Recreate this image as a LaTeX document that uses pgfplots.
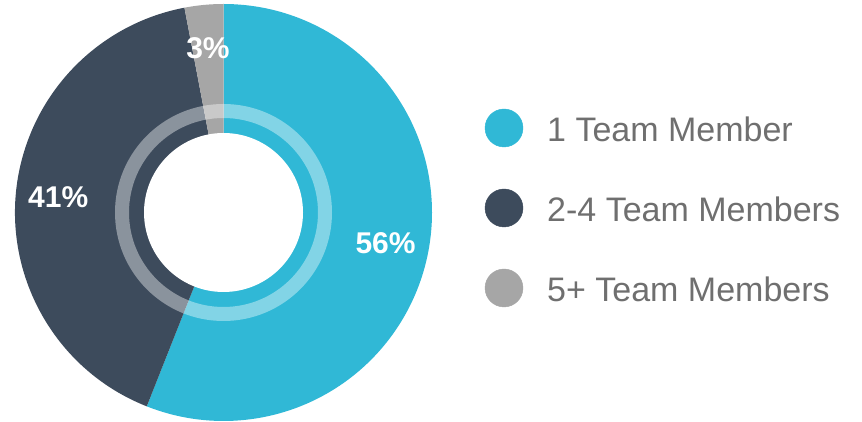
\documentclass[border=0pt]{standalone}
\usepackage{pgfplots}
\pgfplotsset{compat=1.18}
\usepackage{pgfplotstable}
\usepackage{fontspec}
\setmainfont{Liberation Sans}
\definecolor{cone}{HTML}{30B8D6}
\definecolor{ctwo}{HTML}{3D4B5C}
\definecolor{cthree}{HTML}{A6A6A6}
\definecolor{legtext}{HTML}{6F6F6F}

\pgfplotstableread[col sep=comma]{
label,value
1 Team Member,56
2-4 Team Members,41
5+ Team Members,3
}\datatable

\pgfplotstablegetelem{0}{value}\of\datatable \edef\va{\pgfplotsretval}
\pgfplotstablegetelem{1}{value}\of\datatable \edef\vb{\pgfplotsretval}
\pgfplotstablegetelem{2}{value}\of\datatable \edef\vc{\pgfplotsretval}
\pgfplotstablegetelem{0}{label}\of\datatable \edef\la{\pgfplotsretval}
\pgfplotstablegetelem{1}{label}\of\datatable \edef\lb{\pgfplotsretval}
\pgfplotstablegetelem{2}{label}\of\datatable \edef\lc{\pgfplotsretval}
\pgfmathsetmacro{\aO}{90}
\pgfmathsetmacro{\aA}{\aO-3.6*\va}
\pgfmathsetmacro{\aB}{\aA-3.6*\vb}
\pgfmathsetmacro{\aC}{\aB-3.6*\vc}
\pgfmathsetmacro{\mA}{(\aO+\aA)/2}
\pgfmathsetmacro{\mB}{(\aA+\aB)/2}
\pgfmathsetmacro{\mC}{(\aB+\aC)/2}
\def\cx{223.5}
\def\cy{209.5}
\def\R{208.5}

\begin{document}
\begin{tikzpicture}
\begin{axis}[width=862pt,height=422pt,scale only axis,hide axis,
  xmin=0,xmax=862,ymin=0,ymax=422,clip=false,at={(0,0)},anchor=south west]
% donut slices
\fill[cone] (axis cs:\cx,\cy) -- ++(\aO:\R) arc[start angle=\aO,end angle=\aA,radius=\R] -- cycle;
\fill[ctwo] (axis cs:\cx,\cy) -- ++(\aA:\R) arc[start angle=\aA,end angle=\aB,radius=\R] -- cycle;
\fill[cthree] (axis cs:\cx,\cy) -- ++(\aB:\R) arc[start angle=\aB,end angle=\aC,radius=\R] -- cycle;
% light ring
\fill[white,opacity=0.4,even odd rule] (axis cs:\cx,\cy) circle[radius=108.5] (axis cs:\cx,\cy) circle[radius=94.5];
% hole
\fill[white] (axis cs:\cx,\cy) circle[radius=79.5];
% percentage labels
\path (axis cs:\cx,\cy) ++(\mA:165) node[text=white,font=\fontsize{30}{36}\selectfont\bfseries] {\va\%};
\path (axis cs:\cx,\cy) ++(\mB:166) node[text=white,font=\fontsize{30}{36}\selectfont\bfseries] {\vb\%};
\path (axis cs:\cx,\cy) ++(\mC:165) node[text=white,font=\fontsize{30}{36}\selectfont\bfseries] {\vc\%};
% legend
\addplot[only marks,mark=*,mark size=19,color=cone] coordinates {(504,294)};
\addplot[only marks,mark=*,mark size=19,color=ctwo] coordinates {(504,214)};
\addplot[only marks,mark=*,mark size=19,color=cthree] coordinates {(504,134)};
\node[anchor=base west,text=legtext,font=\fontsize{34}{40}\selectfont,inner sep=0pt] at (axis cs:547,280.5) {\la};
\node[anchor=base west,text=legtext,font=\fontsize{34}{40}\selectfont,inner sep=0pt] at (axis cs:547,200.5) {\lb};
\node[anchor=base west,text=legtext,font=\fontsize{34}{40}\selectfont,inner sep=0pt] at (axis cs:547,120.5) {\lc};
\end{axis}
\pgfresetboundingbox
\useasboundingbox (0,0) rectangle (862pt,422pt);
\end{tikzpicture}
\end{document}
